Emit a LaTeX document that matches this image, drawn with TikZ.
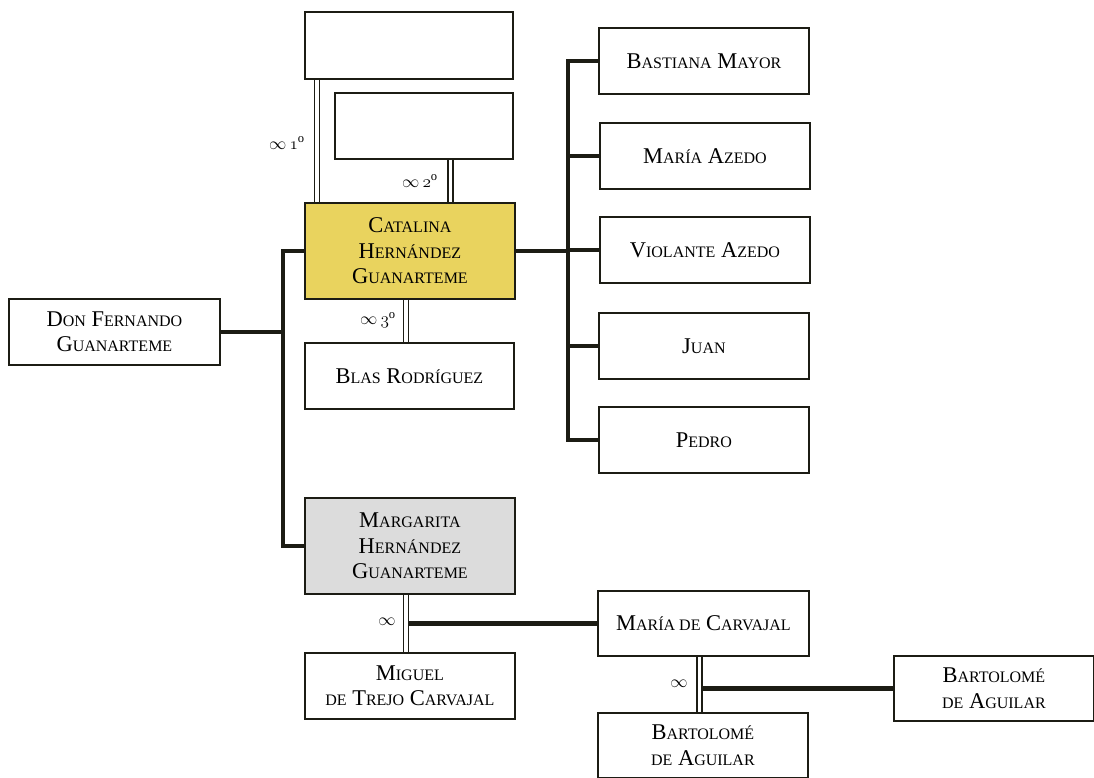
\documentclass[tikz,border=0pt]{standalone}
\usepackage{fontspec}
\setmainfont{Liberation Serif}
\definecolor{inkline}{RGB}{28,28,20}
\definecolor{catfill}{RGB}{233,211,94}
\definecolor{marfill}{RGB}{220,220,220}
% small capitals built from two sizes of capitals
\newcommand{\sm}[1]{{\fontsize{16}{25}\selectfont #1}}
\newcommand{\wedlabel}[1]{\ensuremath{\infty}\,\ensuremath{\mathnormal{#1}}\textsuperscript{o}}
\begin{document}
\begin{tikzpicture}[x=1pt,y=-1pt,
  person/.style={draw=inkline, line width=1.8pt, fill=white, inner sep=0pt,
    minimum width=210pt, minimum height=66pt, align=center, anchor=north west,
    font=\fontsize{22.5}{25.5}\selectfont},
  kin/.style={draw=inkline, line width=4.2pt, line join=miter},
  wed/.style={draw=inkline, line width=1.4pt, double=white, double distance=3.6pt},
  wedtext/.style={font=\fontsize{18}{20}\selectfont, inner sep=0pt}]
\useasboundingbox (0,0) rectangle (1094,778);

% people
\node[person, minimum width=208pt, minimum height=67pt] (e1) at (304,11) {};
\node[person, minimum width=178pt] (e2) at (334,92) {};
\node[person, fill=catfill, minimum height=96pt] (cat) at (304,202) {C\sm{ATALINA}\\H\sm{ERNÁNDEZ}\\G\sm{UANARTEME}};
\node[person, minimum width=211pt] (don) at (8,298) {D\sm{ON} F\sm{ERNANDO}\\G\sm{UANARTEME}};
\node[person, minimum width=209pt] (blas) at (304,342) {B\sm{LAS} R\sm{ODRÍGUEZ}};
\node[person, fill=marfill, minimum height=96pt] (mar) at (304,497) {M\sm{ARGARITA}\\H\sm{ERNÁNDEZ}\\G\sm{UANARTEME}};
\node[person] (mig) at (304,652) {M\sm{IGUEL}\\\sm{DE} T\sm{REJO} C\sm{ARVAJAL}};
\node[person] (c1) at (598,27) {B\sm{ASTIANA} M\sm{AYOR}};
\node[person] (c2) at (599,122) {M\sm{ARÍA} A\sm{ZEDO}};
\node[person] (c3) at (599,216) {V\sm{IOLANTE} A\sm{ZEDO}};
\node[person] (c4) at (598,312) {J\sm{UAN}};
\node[person] (c5) at (598,406) {P\sm{EDRO}};
\node[person, minimum width=211pt, minimum height=65pt] (mdc) at (597,590) {M\sm{ARÍA DE} C\sm{ARVAJAL}};
\node[person, minimum width=210pt, minimum height=65pt] (bb) at (597,712) {B\sm{ARTOLOMÉ}\\\sm{DE} A\sm{GUILAR}};
\node[person, minimum width=200pt, minimum height=65pt] (br) at (893,655) {B\sm{ARTOLOMÉ}\\\sm{DE} A\sm{GUILAR}};

% trunk positions
\coordinate (lt) at (283,0);
\coordinate (rt) at (568,0);
\coordinate (w1) at (317,0);
\coordinate (w2) at (450.5,0);
\coordinate (w3) at (406,0);
\coordinate (w4) at (406,0);
\coordinate (w5) at (699.5,0);

% descent lines
\draw[kin] (cat.west) -- (cat.west -| lt) |- (mar.west);
\draw[kin] (don.east) -- (don.east -| lt);
\draw[kin] (cat.east) -- (cat.east -| rt);
\draw[kin] (c1.west) -- (c1.west -| rt) |- (c5.west);
\draw[kin] (c2.west) -- (c2.west -| rt);
\draw[kin] (c3.west) -- (c3.west -| rt);
\draw[kin] (c4.west) -- (c4.west -| rt);
\draw[kin] (mdc.west) -- (mdc.west -| w4);
\draw[kin] (br.west) -- (br.west -| w5);

% marriages
\draw[wed] (e1.south -| w1) -- (cat.north -| w1);
\draw[wed] (e2.south -| w2) -- (cat.north -| w2);
\draw[wed] (cat.south -| w3) -- (blas.north -| w3);
\draw[wed] (mar.south -| w4) -- (mig.north -| w4);
\draw[wed] (mdc.south -| w5) -- (bb.north -| w5);

\node[wedtext] (l1) at (287,143) {\wedlabel{1}};
\node[wedtext] (l2) at (420,181) {\wedlabel{2}};
\node[wedtext] (l3) at (378,320) {\wedlabel{3}};
\node[wedtext] (l4) at (387,622) {$\infty$};
\node[wedtext] (l5) at (679,684) {$\infty$};
\end{tikzpicture}
\end{document}
